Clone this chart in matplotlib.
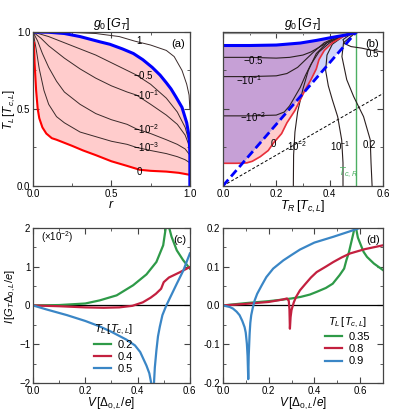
import numpy as np
import matplotlib
matplotlib.use('Agg')
import matplotlib.pyplot as plt
from matplotlib.ticker import MultipleLocator

plt.rcParams['font.family'] = ['Liberation Sans', 'DejaVu Sans']
plt.rcParams['mathtext.fontset'] = 'custom'
plt.rcParams['mathtext.rm'] = 'Liberation Sans'
plt.rcParams['mathtext.it'] = 'Liberation Sans:italic'

# ---- panel (a): T_L vs r ----
a_blue_r = [0, .1, .2, .3, .43, .49, .57, .64, .70, .76, .81, .85, .88, .91, .95, .98, .995, 1.0, 1.0]
a_blue_T = [1, .998, .99, .97, .935, .92, .89, .86, .82, .77, .72, .67, .63, .58, .51, .41, .32, .22, 0.0]
a_red_r = [.006, .01, .02, .03, .04, .06, .085, .12, .15, .2, .25, .32, .4, .5, .6, .68, .75, .85, .93, 1]
a_red_T = [.93, .80, .62, .50, .44, .38, .34, .31, .30, .28, .26, .23, .20, .16, .13, .105, .098, .093, .085, .072]
a_one_r = [0, .2, .4, .55, .65, .75, .85, .9, .95, .98, .995, 1.0]
a_one_T = [1, .999, .99, .97, .94, .915, .88, .84, .75, .66, .59, .5]
a_m05_r = [0, .1, .2, .3, .4, .5, .6, .66, .75, .85, .92, .97, 1.0]
a_m05_T = [1, .97, .93, .89, .85, .80, .75, .72, .66, .57, .48, .38, .27]
a_m1_r = [0, .05, .1, .2, .3, .4, .5, .6, .66, .75, .85, .92, .97, 1]
a_m1_T = [1, .96, .91, .83, .76, .70, .65, .61, .59, .53, .46, .40, .33, .25]
a_m2_r = [0, .03, .06, .1, .15, .2, .3, .4, .5, .6, .66, .75, .85, .92, .97, 1]
a_m2_T = [1, .94, .86, .77, .68, .61, .53, .47, .43, .40, .37, .34, .30, .27, .24, .20]
a_m3_r = [0, .02, .04, .07, .1, .15, .2, .3, .4, .5, .6, .66, .75, .85, .92, .97, 1]
a_m3_T = [1, .89, .76, .62, .53, .45, .41, .35, .32, .29, .27, .25, .23, .21, .19, .17, .15]
a_labels = ['1', '$-0.5$', '$-10^{-1}$', '$-10^{-2}$', '$-10^{-3}$', '0']
a_label_pos = [(.66, .94), (.64, .72), (.64, .59), (.64, .37), (.64, .25), (.66, .09)]

# ---- panel (b): T_L vs T_R ----
b_top_x = [0, .1, .2, .29, .35, .41, .46, .5]
b_top_y = [.912, .912, .915, .928, .945, .965, .98, 1.0]
b_red_x = [0, .05, .075, .09, .11, .14, .17, .19, .22, .24, .27, .29, .31, .33, .35, .36, .38, .41, .45, .5]
b_red_y = [.147, .147, .148, .15, .16, .19, .23, .28, .34, .41, .49, .56, .63, .69, .76, .82, .88, .93, .97, 1.0]
b_diag_x = [0, .5]
b_diag_y = [0, 1]
b_eq_x = [0, .6]
b_eq_y = [0, .6]
b_one_x = [0, .5]
b_one_y = [.99, .99]
b_m05_x = [0, .1, .2, .25, .3, .33, .36, .4, .45, .5]
b_m05_y = [.835, .835, .83, .835, .85, .87, .9, .94, .97, 1.0]
b_m1_x = [0, .1, .2, .24, .28, .31, .34, .38, .43, .5]
b_m1_y = [.71, .71, .715, .73, .77, .82, .87, .93, .97, 1]
b_m2_x = [0, .1, .2, .23, .25, .27, .29, .31, .33, .36, .4, .45, .5]
b_m2_y = [.455, .455, .46, .48, .52, .58, .64, .72, .79, .87, .93, .97, 1]
b_p2_x = [.264, .265, .27, .28, .3, .32, .35, .39, .44, .5]
b_p2_y = [0, .2, .35, .48, .63, .75, .86, .93, .97, 1]
b_p1_x = [.45, .45, .445, .43, .41, .395, .385, .39, .41, .45, .5]
b_p1_y = [0, .15, .3, .45, .56, .65, .75, .85, .92, .97, 1]
b_p02_x = [.559, .555, .552, .527, .49, .464, .446, .452, .5]
b_p02_y = [0, .15, .30, .45, .58, .69, .84, .93, 1]
b_p05_x = [.5, .47, .45, .455, .48, .52, .56, .6]
b_p05_y = [1, .975, .95, .925, .905, .895, .88, .87]
b_labels = ['$-0.5$', '$-10^{-1}$', '$-10^{-2}$', '0', '$10^{-2}$', '$10^{-1}$', '0.2', '0.5']
b_label_pos = [(.113, .82), (.10, .69), (.113, .45), (.19, .27), (.28, .26), (.44, .26), (.55, .265), (.56, .86)]
b_TcR = 0.5

# ---- panel (c): I vs V (x1e-2) ----
c_TL = ['0.2', '0.4', '0.5']
c_g_V = [0, .1, .2, .255, .32, .383, .434, .472, .498, .51, .517, .53, .55, .574, .6]
c_g_I = [0, .01, .05, .13, .26, .52, .80, 1.12, 1.55, 2.1, 2.1, 1.77, 1.42, 1.17, .95]
c_r_V = [0, .1, .2, .27, .33, .38, .42, .45, .47, .49, .5, .52, .56, .6]
c_r_I = [0, -.02, -.05, -.06, -.05, -.01, .08, .2, .3, .43, .6, .72, .85, .99]
c_b_V = [0, .05, .13, .2, .255, .3, .357, .39, .41, .434, .445, .455, .462, .466, .472, .478,
         .485, .495, .51, .53, .55, .575, .6]
c_b_I = [0, -.1, -.25, -.4, -.54, -.68, -.88, -1.03, -1.2, -1.55, -1.75, -2.1, -2.1, -1.6, -1.16, -.8,
         -.55, -.25, 0, .28, .56, .9, 1.34]

# ---- panel (d): I vs V ----
d_TL = ['0.35', '0.8', '0.9']
d_g_V = [0, .1, .2, .26, .3, .34, .38, .41, .45, .48, .51, .53, .54, .55, .56, .57, .575, .58,
         .585, .59, .6, .615, .63, .66, .7]
d_g_I = [0, .006, .011, .015, .018, .022, .028, .035, .045, .056, .078, .095, .117, .135, .16, .185, .2, .21,
         .19, .175, .16, .138, .125, .108, .091]
d_r_V = [0, .1, .2, .26, .28, .288, .291, .293, .296, .3, .305, .31, .32, .337, .36, .385, .41, .45, .483, .52, .556, .62, .7]
d_r_I = [0, .004, .009, .015, .018, .012, -.01, -.06, -.03, -.012, -.002, .008, .022, .039, .055, .072, .086, .1, .112, .124, .134, .145, .155]
d_b_V = [0, .03, .044, .06, .073, .085, .095, .1, .105, .108, .111, .113, .117, .12, .124, .13, .139, .15,
         .17, .19, .22, .264, .3, .337, .4, .483, .55, .6]
d_b_I = [0, -.004, -.008, -.016, -.025, -.04, -.056, -.07, -.099, -.13, -.19, -.13, -.073, -.045, -.025, -.008, .013, .03,
         .052, .073, .095, .116, .13, .144, .162, .177, .19, .2]

green, red, blue = '#2e9a48', '#c3203f', '#3a86c6'
tc_green = '#4caf62'
spine_c = '#444444'

fig = plt.figure(figsize=(4.15, 4.15), dpi=100)
ax_a = fig.add_axes([0.0795, 0.552, 0.378, 0.371])
ax_b = fig.add_axes([0.537, 0.552, 0.386, 0.371])
ax_c = fig.add_axes([0.0795, 0.077, 0.378, 0.374])
ax_d = fig.add_axes([0.537, 0.077, 0.386, 0.374])


def style(ax):
    ax.tick_params(which='both', direction='in', top=True, right=True, labelsize=7,
                   color=spine_c, pad=2)
    ax.tick_params(which='major', length=4)
    ax.tick_params(which='minor', length=2)
    for s in ax.spines.values():
        s.set_color(spine_c)
        s.set_linewidth(0.9)


# (a)
ax = ax_a
ax.fill(np.r_[a_blue_r, a_red_r[::-1]], np.r_[a_blue_T, a_red_T[::-1]], color='#ffcccc', lw=0)
for rr, tt in [(a_one_r, a_one_T), (a_m05_r, a_m05_T), (a_m1_r, a_m1_T), (a_m2_r, a_m2_T), (a_m3_r, a_m3_T)]:
    ax.plot(rr, tt, color='#3a2a2a', lw=0.7)
ax.plot(a_red_r, a_red_T, color='red', lw=1.5)
ax.plot(a_blue_r, a_blue_T, color='blue', lw=2.2)
for lab, (x, y) in zip(a_labels, a_label_pos):
    ax.text(x, y, lab, fontsize=7, ha='left', va='center')
ax.text(0.97, 0.955, '(a)', fontsize=8, ha='right', va='top')
ax.set_xlim(0, 1)
ax.set_ylim(0, 1)
ax.xaxis.set_major_locator(MultipleLocator(0.5))
ax.xaxis.set_minor_locator(MultipleLocator(0.25))
ax.yaxis.set_major_locator(MultipleLocator(0.5))
ax.yaxis.set_minor_locator(MultipleLocator(0.25))
ax.set_xlabel('$r$', fontsize=9, labelpad=0)
ax.set_ylabel('$T_L\\,[T_{c,L}]$', fontsize=8.5, labelpad=0)
ax.set_title('$g_0\\,[G_T]$', fontsize=9, pad=3)
style(ax)

# (b)
ax = ax_b
xg = np.linspace(0, 0.5, 600)
top = np.interp(xg, b_top_x, b_top_y)
redg = np.interp(xg, b_red_x, b_red_y)
diag = np.interp(xg, b_diag_x, b_diag_y)
floor = min(b_red_y)
lo_p = np.maximum(redg, diag)
ax.fill_between(xg, lo_p, top, where=lo_p < top, color='#c6a0d6', lw=0, interpolate=True)
ax.fill_between(xg, redg, np.minimum(diag, top), where=redg < np.minimum(diag, top), color='#ffcccc', lw=0, interpolate=True)
lo_b = np.maximum(diag, floor)
hi_b = np.minimum(redg, top)
ax.fill_between(xg, lo_b, hi_b, where=lo_b < hi_b, color='#d0d4fa', lw=0, interpolate=True)
ax.plot(b_one_x, b_one_y, color='#999999', lw=1.6)
ax.axvline(b_TcR, color=tc_green, lw=1.0)
ax.plot(b_eq_x, b_eq_y, color='k', lw=0.7, ls=(0, (3, 2)))
for xx, yy in [(b_m05_x, b_m05_y), (b_m1_x, b_m1_y), (b_m2_x, b_m2_y), (b_p2_x, b_p2_y),
               (b_p1_x, b_p1_y), (b_p02_x, b_p02_y), (b_p05_x, b_p05_y)]:
    ax.plot(xx, yy, color='#2a1f1f', lw=0.8)
ax.plot(b_red_x, b_red_y, color='#e8303a', lw=1.2)
ax.plot(b_top_x, b_top_y, color='blue', lw=2.2)
ax.plot(b_diag_x, b_diag_y, color='blue', lw=2.0, ls=(0, (3, 1.5)))
for lab, (x, y) in zip(b_labels, b_label_pos):
    ax.text(x, y, lab, fontsize=7, ha='center', va='center')
ax.text(0.468, 0.085, '$T_{c,R}$', fontsize=7.5, color=tc_green, ha='center', va='center')
ax.text(0.585, 0.955, '(b)', fontsize=8, ha='right', va='top')
ax.set_xlim(0, 0.6)
ax.set_ylim(0, 1)
ax.xaxis.set_major_locator(MultipleLocator(0.2))
ax.xaxis.set_minor_locator(MultipleLocator(0.1))
ax.yaxis.set_major_locator(MultipleLocator(0.5))
ax.yaxis.set_minor_locator(MultipleLocator(0.25))
ax.set_yticklabels([])
ax.set_xlabel('$T_R\\,[T_{c,L}]$', fontsize=9, labelpad=0)
ax.set_title('$g_0\\,[G_T]$', fontsize=9, pad=3)
style(ax)

# (c)
ax = ax_c
ax.axhline(0, color='k', lw=0.9)
for (vv, ii), col, lab in zip([(c_g_V, c_g_I), (c_r_V, c_r_I), (c_b_V, c_b_I)], [green, red, blue], c_TL):
    ax.plot(vv, ii, color=col, lw=1.6, label=lab)
ax.set_xlim(0, 0.6)
ax.set_ylim(-2, 2)
ax.set_xticks([0, 0.2, 0.4, 0.6])
ax.set_xticklabels(['0.0', '0.2', '0.4', '0.6'])
ax.xaxis.set_minor_locator(MultipleLocator(0.1))
ax.yaxis.set_major_locator(MultipleLocator(1))
ax.yaxis.set_minor_locator(MultipleLocator(0.5))
ax.text(0.03, 1.75, '($\\times10^{-2}$)', fontsize=7, ha='left', va='center')
ax.text(0.585, 1.82, '(c)', fontsize=8, ha='right', va='top')
ax.set_xlabel('$V\\,[\\Delta_{0,L}/e]$', fontsize=8.5, labelpad=0)
ax.set_ylabel('$I\\,[G_T\\Delta_{0,L}/e]$', fontsize=8, labelpad=1)
ax.yaxis.set_label_coords(-0.095, 0.56)
ax.legend(title='$T_L\\,[T_{c,L}]$', loc='lower left', bbox_to_anchor=(0.33, 0.0), frameon=False,
          fontsize=8, title_fontsize=8, handlelength=1.6, labelspacing=0.2, handletextpad=0.6,
          borderpad=0.3)
style(ax)

# (d)
ax = ax_d
ax.axhline(0, color='k', lw=0.9)
for (vv, ii), col, lab in zip([(d_g_V, d_g_I), (d_r_V, d_r_I), (d_b_V, d_b_I)], [green, red, blue], d_TL):
    ax.plot(vv, ii, color=col, lw=1.6, label=lab)
ax.set_xlim(0, 0.7)
ax.set_ylim(-0.2, 0.2)
ax.set_xticks([0, 0.2, 0.4, 0.6])
ax.set_xticklabels(['0.0', '0.2', '0.4', '0.6'])
ax.xaxis.set_minor_locator(MultipleLocator(0.1))
ax.set_yticks([-0.2, -0.1, 0, 0.1, 0.2])
ax.set_yticklabels(['-0.2', '-0.1', '0.0', '0.1', '0.2'])
ax.yaxis.set_minor_locator(MultipleLocator(0.05))
ax.text(0.685, 0.182, '(d)', fontsize=8, ha='right', va='top')
ax.set_xlabel('$V\\,[\\Delta_{0,L}/e]$', fontsize=8.5, labelpad=0)
ax.legend(title='$T_L\\,[T_{c,L}]$', loc='lower left', bbox_to_anchor=(0.58, 0.05), frameon=False,
          fontsize=8, title_fontsize=8, handlelength=1.6, labelspacing=0.2, handletextpad=0.6,
          borderpad=0.3)
style(ax)

fig.savefig('out.png', dpi=100)
